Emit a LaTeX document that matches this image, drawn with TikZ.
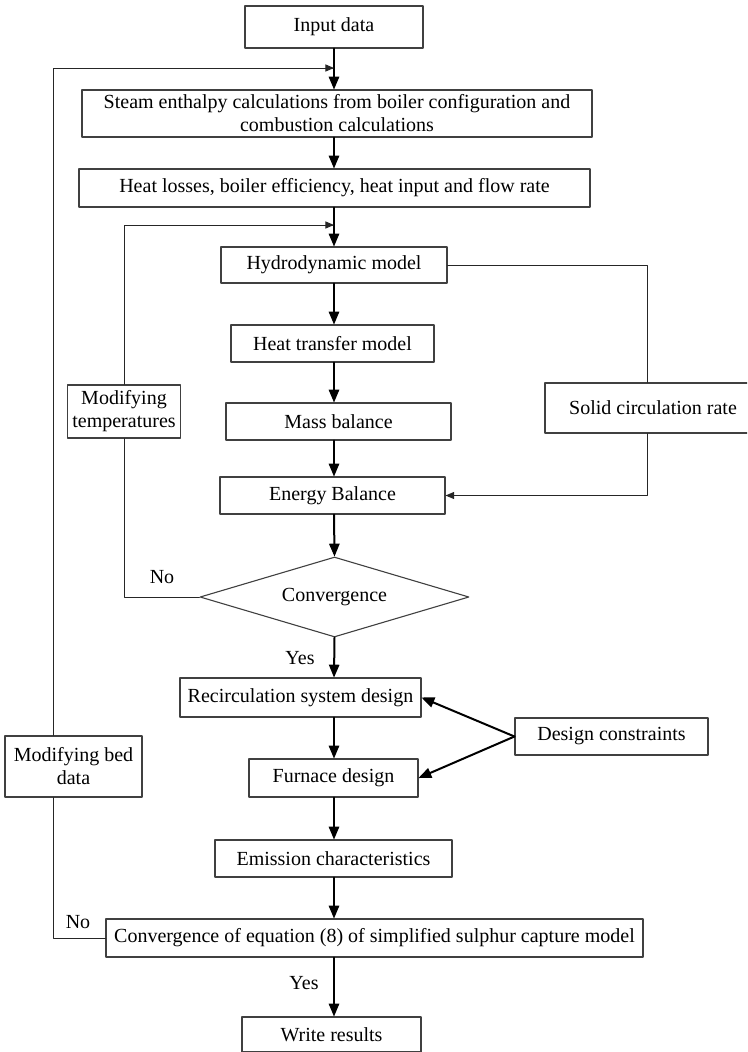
\documentclass[tikz,border=0pt]{standalone}
\usepackage{fontspec}
\setmainfont{Liberation Serif}
\usetikzlibrary{arrows,shapes.geometric}
\begin{document}
\begin{tikzpicture}[line cap=round,line join=round,>=triangle 45,x=1pt,y=-1pt,
  every node/.style={font=\fontsize{20}{23}\selectfont},
  box/.style={draw=black!75,line width=1.1pt,inner sep=1pt,align=center},
  flow/.style={->,line width=2pt},
  back/.style={line width=1pt,draw=black!85}]
\clip(0,0) rectangle (747,1052);
\coordinate (axis) at (334,0);
\coordinate (k1) at (53,68);
\coordinate (k2) at (124,225);
\node[box,minimum width=178pt,minimum height=42pt] (input) at (334,27) {Input data};
\node[box,minimum width=510pt,minimum height=47pt] (steam) at (337,113.5) {Steam enthalpy calculations from boiler configuration and\\combustion calculations};
\node[box,minimum width=511pt,minimum height=38pt] (losses) at (334.5,188) {Heat losses, boiler efficiency, heat input and flow rate};
\node[box,minimum width=226pt,minimum height=36pt] (hydro) at (334,265) {Hydrodynamic model};
\node[box,minimum width=203pt,minimum height=37pt] (transfer) at (332.5,343.5) {Heat transfer model};
\node[box,minimum width=225pt,minimum height=37pt] (mass) at (338.5,421.5) {Mass balance};
\node[box,minimum width=225pt,minimum height=37pt] (energy) at (332.5,495.5) {Energy Balance};
\node[box,shape=diamond,aspect=3.36,inner sep=0pt,minimum width=269pt,minimum height=80pt] (conv) at (334.5,597) {Convergence};
\node[box,minimum width=241pt,minimum height=39pt] (recirc) at (300.5,697.5) {Recirculation system design};
\node[box,minimum width=169pt,minimum height=38pt] (furnace) at (333.5,778) {Furnace design};
\node[box,minimum width=237pt,minimum height=37pt] (emission) at (333.5,858.5) {Emission characteristics};
\node[box,minimum width=537pt,minimum height=38pt] (conveq) at (374.5,938) {Convergence of equation (8) of simplified sulphur capture model};
\node[box,minimum width=179pt,minimum height=35pt] (write) at (331.5,1034.5) {Write results};
\node[box,minimum width=113pt,minimum height=53pt] (modtemp) at (124,411.5) {Modifying\\temperatures};
\node[box,minimum width=216pt,minimum height=50pt] (solid) at (653,408) {Solid circulation rate};
\node[box,minimum width=193pt,minimum height=37pt] (design) at (611.5,736.5) {Design constraints};
\node[box,minimum width=137pt,minimum height=61pt] (modbed) at (73.5,766.5) {Modifying bed\\data};
\node (no1) at (162,577) {No};
\node (yes1) at (300,658) {Yes};
\node (no2) at (78,922) {No};
\node (yes2) at (304,983) {Yes};
\draw[flow] (input.south -| axis) -- (steam.north -| axis);
\draw[flow] (steam.south -| axis) -- (losses.north -| axis);
\draw[flow] (losses.south -| axis) -- (hydro.north -| axis);
\draw[flow] (hydro.south -| axis) -- (transfer.north -| axis);
\draw[flow] (transfer.south -| axis) -- (mass.north -| axis);
\draw[flow] (mass.south -| axis) -- (energy.north -| axis);
\draw[flow] (energy.south -| axis) -- (conv.north);
\draw[flow] (conv.south) -- (recirc.north -| axis);
\draw[flow] (recirc.south -| axis) -- (furnace.north -| axis);
\draw[flow] (furnace.south -| axis) -- (emission.north -| axis);
\draw[flow] (emission.south -| axis) -- (conveq.north -| axis);
\draw[flow] (conveq.south -| axis) -- (write.north -| axis);
\draw[flow] (design.west) -- (recirc.east);
\draw[flow] (design.west) -- (furnace.east);
\draw[back,->] (modbed.north -| k1) -- (k1) -- (k1 -| axis);
\draw[back] (conveq.west) -| (modbed.south -| k1);
\draw[back,->] (modtemp.north) |- (axis |- k2);
\draw[back] (conv.west) -| (modtemp.south);
\draw[back] (hydro.east) -| (solid.north -| 647,0);
\draw[back,->] (solid.south -| 647,0) |- (energy.east);
\end{tikzpicture}
\end{document}
